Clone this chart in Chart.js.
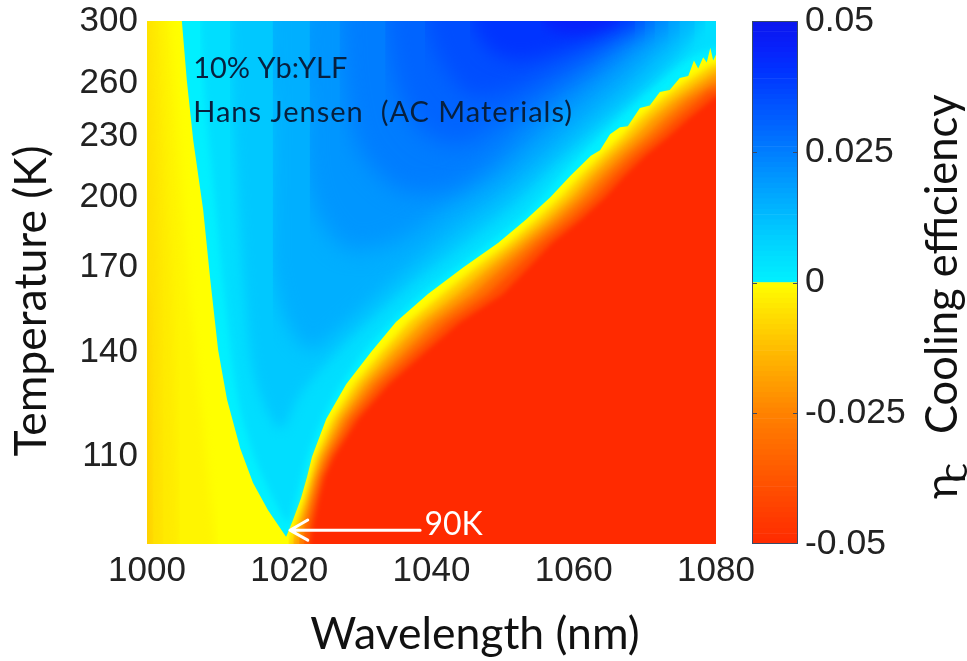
<!DOCTYPE html>
<html><head><meta charset="utf-8">
<style>
html,body{margin:0;padding:0;background:#fff;width:967px;height:661px;overflow:hidden}
canvas{position:absolute;top:0;filter:blur(0.6px)}
#map{left:0}
#bar{left:720px}
</style>
<script src="https://cdn.jsdelivr.net/npm/chart.js@4/dist/chart.umd.min.js"></script>
</head><body>
<canvas id="map" width="967" height="661"></canvas>
<canvas id="bar" width="247" height="661"></canvas>
<script>
// Axis ticks
const wavelengthTicks=[1000,1020,1040,1060,1080];
const temperatureTicks=[110,140,170,200,230,260,300];
const colorbarTicks=[-0.05,-0.025,0,0.025,0.05];
const colorbarTickLabels=['-0.05','-0.025','0','0.025','0.05'];

// Contours of cooling efficiency, [wavelength nm, temperature K]
const cool005=[[1007.45,300],[1008.15,249.9],[1009.56,198.6],[1010.97,158],[1012.8,125.5],[1015.2,109.6],[1018,99.2],[1019.8,94.8],[1020.8,99.2],[1022.9,112.1],[1026.4,127],[1031.3,142.3],[1038.4,159.6],[1046.8,177.1],[1053.8,194.2],[1059.5,215.3],[1065.1,236],[1070.7,257.1],[1076.3,275.5],[1085,290]];
const cool010=[[1011.67,300],[1011.95,249.9],[1012.8,198.6],[1013.8,158],[1015.2,131.4],[1018.7,117.3],[1021.5,127],[1025.7,137.5],[1029.9,147.4],[1037,163.4],[1045.4,181.2],[1052.4,198.6],[1058.1,217.8],[1063.7,236],[1069.3,254.7],[1074.9,277.2],[1078.5,300]];
const cool015=[[1017.7,300],[1017.3,249.9],[1016.6,198.6],[1017.3,173.1],[1019.4,150.8],[1022.9,140.7],[1027.1,147.4],[1034.2,163.4],[1042.6,183.3],[1050.3,200.9],[1056.7,220.3],[1062.3,238.7],[1067.9,258.9],[1072.8,280.4],[1077,300]];
const cool020=[[1022.9,300],[1022.2,249.9],[1022.2,212.8],[1024.3,189.8],[1028.5,177.1],[1035.6,181.2],[1042.6,196.4],[1049.6,210.4],[1055.3,228],[1060.9,247],[1066.5,266.8],[1071.4,287],[1074.9,300]];
const cool025=[[1027.1,300],[1027.8,255.9],[1029.9,222.8],[1035.6,203.2],[1042.6,203.2],[1048.2,215.3],[1053.8,236],[1059.5,255.9],[1065.1,274],[1069.3,290.4],[1073.3,300]];
const cool030=[[1033.5,300],[1034.9,261.9],[1038.4,233.3],[1044,225.4],[1049.6,236],[1055.3,252.8],[1060.9,267.8],[1066.5,287],[1071.4,300]];
const cool035=[[1039.1,300],[1041.2,274],[1045.4,252.8],[1051,255.9],[1056.7,267.8],[1062.3,280.4],[1067.2,293.8],[1070,300]];
const cool040=[[1045.4,300],[1048.2,280.4],[1052.4,274],[1058.1,280.4],[1063.7,290.4],[1068.6,300]];
const cool045=[[1055.3,300],[1058.1,292.5],[1062.3,292.5],[1066.5,300]];

// Zero contour, short-wavelength side
const zeroLeft=[[1000,300],[1004.9,300],[1005.6,261.6],[1006.5,228],[1007.9,194.2],[1008.9,165.3],[1010,140.7],[1011.25,125.5],[1013.1,112.2],[1014.9,103.6],[1017,97.3],[1019.5,91.6],[1020.1,90]];
const heatLeft002=[[995,340],[1003.2,340],[1003.2,300],[1006,158],[1009.6,90],[1010,70]];
const heatLeft004=[[995,340],[1001.8,340],[1001.8,300],[1003.5,158],[1004.4,90],[1004.6,70]];
const heatLeft006=[[995,340],[1000.4,340],[1000.4,300],[1001.5,158],[1002.1,90],[1002.3,70]];
const heatLeft009=[[995,170],[1000,158],[1000.7,90],[1000.9,70]];

// Zero contour and heating contours, long-wavelength side
const zeroRight=[[1019.1,90],[1019.7,92],[1020.5,95],[1021.65,100],[1022.5,105],[1023.2,110],[1025.2,120],[1028,130],[1031.5,140],[1035,150],[1039.5,160],[1044.4,170],[1049.35,180],[1053.3,190],[1056.7,200],[1059.5,210],[1062.4,220],[1063.7,222.8],[1065.1,231.2],[1066.5,234.9],[1067.6,235.5],[1069.3,245.6],[1070.7,247],[1072.1,254.7],[1073.5,255.9],[1074.9,263.1],[1076.1,264.3],[1076.9,274],[1077.5,268.9],[1078.2,276],[1078.7,272.7],[1079.2,282.1],[1079.6,274],[1080,277.8]];
const heat010=[[1019.9,90],[1020.4,92],[1021.1,95],[1022.2,100],[1023,105],[1023.8,110],[1026.1,120],[1029.2,130],[1033,140],[1036.8,150],[1041.6,160],[1046.2,170],[1050.9,180],[1054.8,190],[1058.2,200],[1061,210],[1063.9,220],[1066.8,230],[1069.3,240],[1072.2,250],[1075.5,260],[1079,270],[1080,272],[1085,272]];
const heat020=[[1020.6,90],[1021.1,92],[1021.7,95],[1022.7,100],[1023.5,105],[1024.4,110],[1027,120],[1030.4,130],[1034.5,140],[1038.6,150],[1043.7,160],[1048.1,170],[1052.4,180],[1056.4,190],[1059.8,200],[1062.5,210],[1065.4,220],[1068.4,230],[1071,240],[1074,250],[1077.5,260],[1080,267],[1085,267]];
const heat030=[[1021.4,90],[1021.7,92],[1022.3,95],[1023.2,100],[1024,105],[1025.1,110],[1027.9,120],[1031.6,130],[1036.1,140],[1040.4,150],[1045.8,160],[1049.9,170],[1053.9,180],[1057.9,190],[1061.3,200],[1064.1,210],[1067,220],[1070.1,230],[1072.8,240],[1075.7,250],[1079.5,260],[1080,261],[1085,261]];
const heat040=[[1022.1,90],[1022.4,92],[1022.9,95],[1023.7,100],[1024.5,105],[1025.7,110],[1028.8,120],[1032.8,130],[1037.6,140],[1042.2,150],[1047.9,160],[1051.8,170],[1055.4,180],[1059.5,190],[1062.9,200],[1065.6,210],[1068.5,220],[1071.7,230],[1074.5,240],[1077.5,250],[1079,255],[1080,256],[1085,256]];
const heat050=[[1022.9,90],[1023.1,92],[1023.5,95],[1024.2,100],[1025,105],[1026.3,110],[1029.7,120],[1034,130],[1039.1,140],[1044,150],[1050,160],[1053.6,170],[1056.9,180],[1061,190],[1064.4,200],[1067.1,210],[1070,220],[1073.3,230],[1076.2,240],[1079.3,250],[1080,252],[1085,252]];

// Annotation
const arrowLine=[[1022.6,95.1],[1020.1,92.9],[1022.6,90.8],[1020.1,92.9],[1038.4,92.9]];
const floorLine=[[1000,90],[1080,90]];

// Colour table: efficiency → rgb
const colourStops=[[-0.05,255,42,0],[-0.0375,255,85,0],[-0.025,255,130,0],[-0.0125,255,190,0],[-0.00001,255,255,0],[0,0,240,255],[0.005,0,222,255],[0.01,0,200,255],[0.015,0,175,255],[0.02,0,150,255],[0.025,0,125,255],[0.03,0,100,255],[0.035,0,78,255],[0.04,0,52,255],[0.045,8,32,250],[0.05,10,22,238]];
function colourOf(v){
  for(let i=1;i<colourStops.length;i++){
    const a=colourStops[i-1],b=colourStops[i];
    if(v<=b[0]){const t=(v-a[0])/(b[0]-a[0]);
      return 'rgb('+[1,2,3].map(k=>Math.round(a[k]+(b[k]-a[k])*t)).join(',')+')';}
  }
  const l=colourStops[colourStops.length-1];return `rgb(${l[1]},${l[2]},${l[3]})`;
}

const ABOVE={value:400},BELOW={value:70};
const band=(data,level,fill,soft,tension)=>({data:data.map(p=>({x:p[0],y:p[1]})),showLine:true,pointRadius:0,borderWidth:0,
  backgroundColor:colourOf(level),fill,soft:soft||0,tension:tension||0});
const painted=[
  band(floorLine,0,ABOVE),
  band(cool005,0.005,ABOVE,3,.3),band(cool010,0.01,ABOVE,6,.3),band(cool015,0.015,ABOVE,9,.3),band(cool020,0.02,ABOVE,11,.3),
  band(cool025,0.025,ABOVE,11,.3),band(cool030,0.03,ABOVE,11,.3),band(cool035,0.035,ABOVE,10,.3),band(cool040,0.04,ABOVE,9,.3),band(cool045,0.045,ABOVE,7,.3),
  band(zeroLeft,-0.0001,BELOW),band(heatLeft002,-0.002,BELOW,5),band(heatLeft004,-0.004,BELOW,5),band(heatLeft006,-0.006,BELOW,4),band(heatLeft009,-0.009,BELOW,3),
  band(zeroRight,-0.0001,BELOW),band(heat010,-0.01,BELOW,3),band(heat020,-0.02,BELOW,3),band(heat030,-0.03,BELOW,3),band(heat040,-0.04,BELOW,3),band(heat050,-0.05,BELOW,2.5),
  {data:arrowLine.map(p=>({x:p[0],y:p[1]})),showLine:true,pointRadius:0,borderWidth:3,borderColor:'#fff',fill:false,tension:0,borderCapStyle:'round',borderJoinStyle:'round'}
].reverse();

// Filled contours are softened individually: this hook must run before Filler's
const softBands={id:'softBands',
  beforeDatasetDraw(c,a){const s=c.data.datasets[a.index].soft;c.ctx.filter=s?`blur(${s}px)`:'none';},
  afterDatasetDraw(c){c.ctx.filter='none';}};
Chart.unregister(Chart.Filler);Chart.register(softBands);Chart.register(Chart.Filler);

const noteFont='Lato, sans-serif';
const notes={id:'notes',afterDatasetsDraw(c){
  const {ctx,scales:{x,y}}=c;ctx.save();ctx.textBaseline='middle';ctx.textAlign='left';
  ctx.fillStyle='#07203f';ctx.font='29px '+noteFont;
  ctx.fillText('10% Yb:YLF',x.getPixelForValue(1006.5),y.getPixelForValue(269));
  ctx.letterSpacing='1px';
  ctx.fillText('Hans Jensen  (AC Materials)',x.getPixelForValue(1006.5),y.getPixelForValue(242.7));
  ctx.letterSpacing='0px';
  ctx.fillStyle='#fff';ctx.font='32px '+noteFont;
  ctx.fillText('90K',x.getPixelForValue(1039),y.getPixelForValue(94));
  ctx.fillStyle='#111';ctx.font='44.5px '+noteFont;ctx.textBaseline='alphabetic';ctx.textAlign='center';
  ctx.fillText('Wavelength (nm)',475,649);
  ctx.translate(46,301);ctx.rotate(-Math.PI/2);
  ctx.fillText('Temperature (K)',0,0);
  ctx.restore();
}};

new Chart(document.getElementById('map'),{type:'scatter',plugins:[notes],
  data:{datasets:painted},
  options:{responsive:false,animation:false,
    layout:{padding:{top:21,right:251,left:0,bottom:0}},
    plugins:{legend:{display:false},tooltip:{enabled:false}},
    scales:{
      x:{type:'linear',min:1000,max:1080,grid:{display:false,drawTicks:false},border:{display:false},
        afterBuildTicks(s){s.ticks=wavelengthTicks.map(v=>({value:v}));},
        afterFit(s){s.height=117;s.paddingLeft=0;s.paddingRight=0;},
        ticks:{autoSkip:false,maxRotation:0,padding:6,color:'#222',font:{family:'Liberation Sans',size:35},callback:v=>String(v)}},
      y:{type:'logarithmic',min:90,max:300,grid:{display:false,drawTicks:false},border:{display:false},
        afterBuildTicks(s){s.ticks=temperatureTicks.map(v=>({value:v}));},
        afterFit(s){s.width=147;s.paddingTop=0;s.paddingBottom=0;},
        ticks:{autoSkip:false,padding:9,color:'#222',font:{family:'Liberation Sans',size:35},callback:v=>String(v)}}
    }}});

// Colour bar
const colorbarEdges=[];for(let i=0;i<=100;i++)colorbarEdges.push(+(-0.05+i*0.001).toFixed(3));
const barDatasets=colorbarEdges.slice(0,-1).map((lo,i)=>({data:[[lo,colorbarEdges[i+1]]],
  backgroundColor:colourOf((lo+colorbarEdges[i+1])/2),borderWidth:0,barPercentage:1,categoryPercentage:1,grouped:false}));
const barDeco={id:'barDeco',afterDatasetsDraw(c){
  const {ctx,chartArea:a,scales:{y}}=c;ctx.save();
  ctx.strokeStyle='#3a4a66';ctx.lineWidth=1;ctx.strokeRect(a.left+.5,a.top+.5,a.right-a.left-1,a.bottom-a.top-1);
  colorbarTicks.slice(1,-1).forEach(v=>{const p=Math.round(y.getPixelForValue(v))+.5;ctx.beginPath();
    ctx.moveTo(a.left,p);ctx.lineTo(a.left+5,p);ctx.moveTo(a.right-5,p);ctx.lineTo(a.right,p);ctx.stroke();});
  ctx.fillStyle='#111';
  const t=(s,yp,xb,f)=>{ctx.save();ctx.translate(xb,yp);ctx.rotate(-Math.PI/2);ctx.textAlign='left';ctx.textBaseline='alphabetic';ctx.font=f;ctx.fillText(s,0,0);ctx.restore();};
  t('Cooling efficiency',434,237,'43.5px '+noteFont);
  t('η',499,237,'43.5px '+noteFont);
  t('C',482,247,'28px '+noteFont);
  ctx.restore();
}};
new Chart(document.getElementById('bar'),{type:'bar',plugins:[barDeco],
  data:{labels:['efficiency'],datasets:barDatasets},
  options:{responsive:false,animation:false,
    layout:{padding:{top:21,left:32,right:0,bottom:117}},
    plugins:{legend:{display:false},tooltip:{enabled:false}},
    scales:{
      x:{display:false,grid:{display:false}},
      y:{position:'right',min:-0.05,max:0.05,grid:{display:false,drawTicks:false},border:{display:false},
        afterBuildTicks(s){s.ticks=colorbarTicks.map(v=>({value:v}));},
        afterFit(s){s.width=169;s.paddingTop=0;s.paddingBottom=0;},
        ticks:{autoSkip:false,padding:7,color:'#222',font:{family:'Liberation Sans',size:35.5},
          callback:v=>colorbarTickLabels[colorbarTicks.indexOf(v)]}}
    }}});
</script>
</body></html>
